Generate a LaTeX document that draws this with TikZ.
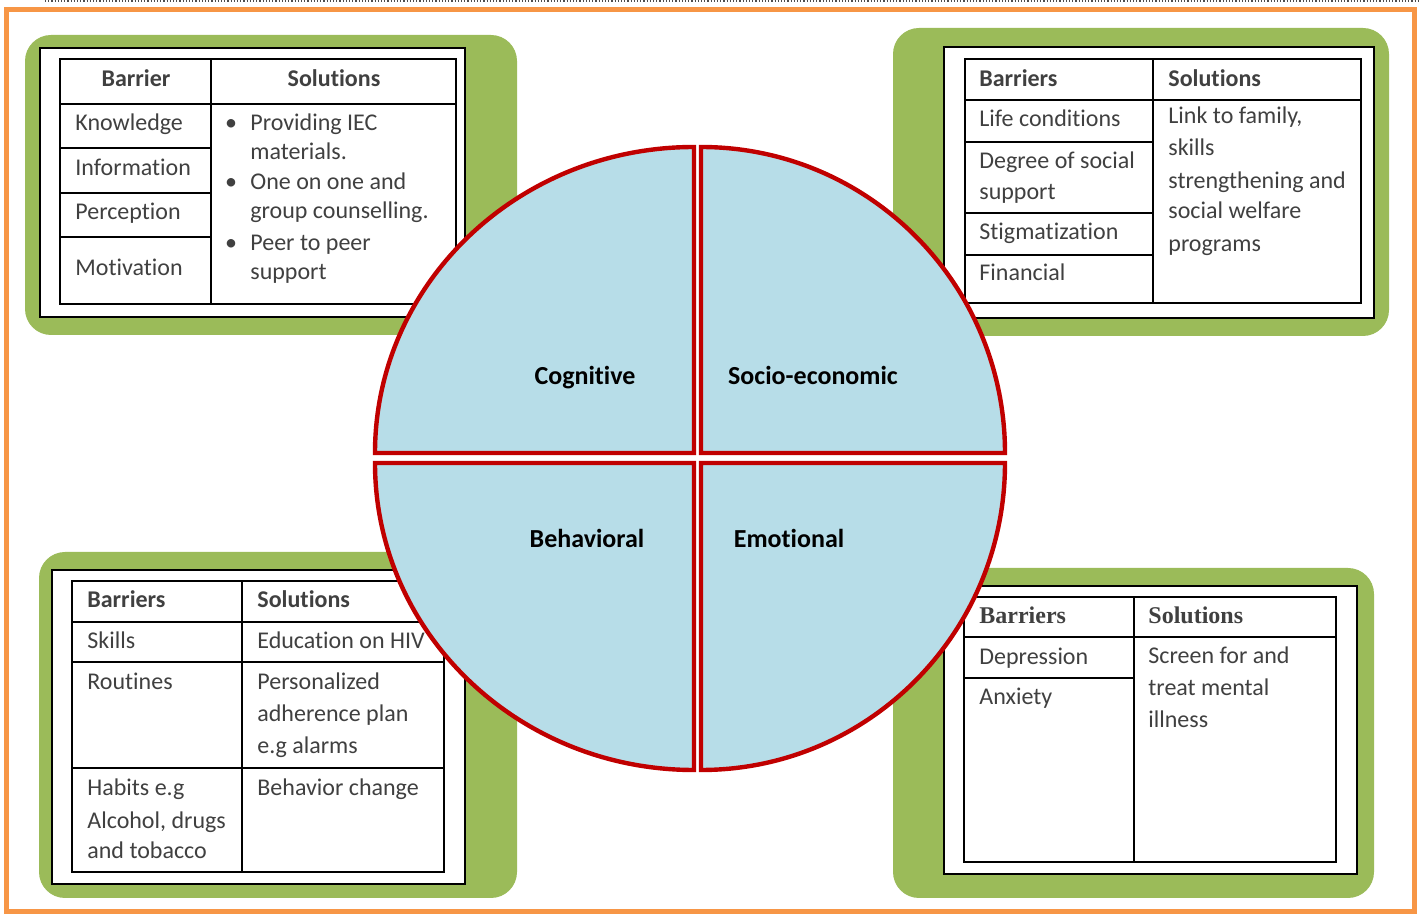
\documentclass[tikz,border=0pt]{standalone}
\usepackage{fontspec}
\setmainfont{Carlito}[Ligatures=NoCommon]
\newfontfamily\timesfam{Liberation Serif}

\definecolor{frameorange}{HTML}{F79646}
\definecolor{panelgreen}{HTML}{9BBB59}
\definecolor{quadblue}{HTML}{B7DDE8}
\definecolor{quadred}{HTML}{C00000}
\definecolor{txtgray}{HTML}{404040}

\begin{document}
\begin{tikzpicture}[x=0.5pt,y=-0.5pt,
	txt/.style={anchor=base west,inner sep=0pt,yshift=-1pt,text=txtgray,font=\fontsize{12}{14}\selectfont},
	head/.style={txt,font=\fontsize{12}{14}\selectfont\bfseries},
	serifhead/.style={txt,font=\fontsize{12}{14}\selectfont\timesfam\bfseries},
	quad/.style={draw=quadred,fill=quadblue,line width=2.2pt},
	quadlbl/.style={anchor=base,inner sep=0pt,yshift=-1pt,font=\fontsize{13}{15}\selectfont\bfseries},
	panel/.style={fill=panelgreen,rounded corners=13pt},
	sheet/.style={fill=white,draw=black,line width=0.7pt},
	tablines/.style={draw=black,line width=0.8pt}]
			\useasboundingbox (0,0) rectangle (1421,914);
			\draw[black!70,densely dotted,line width=0.6pt] (45,1) -- (1421,1);
			\draw[frameorange,line width=2.5pt] (6,10) rectangle (1414,911);

			% green panels and white sheets
			\fill[panel] (25,35) rectangle (517,335);
			\fill[panel] (893,28) rectangle (1389,336);
			\fill[panel] (39,552) rectangle (517,898);
			\fill[panel] (893,568) rectangle (1374,898);
			\draw[sheet] (40,48) rectangle (465,317);
			\draw[sheet] (944,47) rectangle (1374,318);
			\draw[sheet] (52,570) rectangle (465,884);
			\draw[sheet] (944,586) rectangle (1357,874);

			% cognitive table
			\draw[tablines] (60,59) rectangle (456,304);
			\draw[tablines] (211,59) -- (211,304);
			\draw[tablines] (60,104) -- (456,104);
			\draw[tablines] (60,148) -- (211,148);
			\draw[tablines] (60,193) -- (211,193);
			\draw[tablines] (60,237) -- (211,237);
			\node[head,anchor=base] (cogBarHead) at (136,85) {Barrier};
			\node[head,anchor=base] (cogSolHead) at (334,85) {Solutions};
			\node[txt] (cogKnow) at (75,129) {Knowledge};
			\node[txt] (cogInfo) at (75,174) {Information};
			\node[txt] (cogPerc) at (75,218) {Perception};
			\node[txt] (cogMoti) at (75,274) {Motivation};
			\node[txt,anchor=base] (cogDotA) at (231,129) {\textbullet};
			\node[txt,anchor=base] (cogDotB) at (231,188) {\textbullet};
			\node[txt,anchor=base] (cogDotC) at (231,249) {\textbullet};
			\node[txt] (cogSolA1) at (250,129) {Providing IEC};
			\node[txt] (cogSolA2) at (250,158) {materials.};
			\node[txt] (cogSolB1) at (250,188) {One on one and};
			\node[txt] (cogSolB2) at (250,217) {group counselling.};
			\node[txt] (cogSolC1) at (250,249) {Peer to peer};
			\node[txt] (cogSolC2) at (250,278) {support};

			% socio-economic table
			\draw[tablines] (965,59) rectangle (1361,303);
			\draw[tablines] (1153,59) -- (1153,303);
			\draw[tablines] (965,100) -- (1361,100);
			\draw[tablines] (965,142) -- (1153,142);
			\draw[tablines] (965,213) -- (1153,213);
			\draw[tablines] (965,255) -- (1153,255);
			\node[head] (socBarHead) at (979,85) {Barriers};
			\node[head] (socSolHead) at (1168,85) {Solutions};
			\node[txt] (socLife) at (979,125) {Life conditions};
			\node[txt] (socDeg1) at (979,167) {Degree of social};
			\node[txt] (socDeg2) at (979,198) {support};
			\node[txt] (socStig) at (979,238) {Stigmatization};
			\node[txt] (socFin) at (979,279) {Financial};
			\node[txt] (socSol1) at (1168,122) {Link to family,};
			\node[txt] (socSol2) at (1168,154) {skills};
			\node[txt] (socSol3) at (1168,187) {strengthening and};
			\node[txt] (socSol4) at (1168,217) {social welfare};
			\node[txt] (socSol5) at (1168,250) {programs};

			% behavioral table
			\draw[tablines] (72,581) rectangle (444,872);
			\draw[tablines] (242,581) -- (242,872);
			\draw[tablines] (72,622) -- (444,622);
			\draw[tablines] (72,662) -- (444,662);
			\draw[tablines] (72,768) -- (444,768);
			\node[head] (behBarHead) at (87,606) {Barriers};
			\node[head] (behSolHead) at (257,606) {Solutions};
			\node[txt] (behSkill) at (87,647) {Skills};
			\node[txt] (behEdu) at (257,647) {Education on HIV};
			\node[txt] (behRout) at (87,688) {Routines};
			\node[txt] (behPlan1) at (257,688) {Personalized};
			\node[txt] (behPlan2) at (257,720) {adherence plan};
			\node[txt] (behPlan3) at (257,752) {e.g alarms};
			\node[txt] (behHab1) at (87,794) {Habits e.g};
			\node[txt] (behHab2) at (87,826) {Alcohol, drugs};
			\node[txt] (behHab3) at (87,857) {and tobacco};
			\node[txt] (behChange) at (257,794) {Behavior change};

			% emotional table
			\draw[tablines] (964,597) rectangle (1336,862);
			\draw[tablines] (1134,597) -- (1134,862);
			\draw[tablines] (964,637) -- (1336,637);
			\draw[tablines] (964,678) -- (1134,678);
			\node[serifhead] (emoBarHead) at (979,622) {Barriers};
			\node[serifhead] (emoSolHead) at (1148,622) {Solutions};
			\node[txt] (emoDep) at (979,663) {Depression};
			\node[txt] (emoAnx) at (979,703) {Anxiety};
			\node[txt] (emoSol1) at (1148,662) {Screen for and};
			\node[txt] (emoSol2) at (1148,694) {treat mental};
			\node[txt] (emoSol3) at (1148,726) {illness};

			% the four quadrants
			\draw[quad] (694,453) -- (375,453) arc[start angle=180,end angle=270,x radius=319,y radius=306] -- cycle;
			\draw[quad] (701,453) -- (701,147) arc[start angle=270,end angle=360,x radius=304,y radius=306] -- cycle;
			\draw[quad] (694,463) -- (375,463) arc[start angle=180,end angle=90,x radius=319,y radius=307] -- cycle;
			\draw[quad] (701,463) -- (1005,463) arc[start angle=0,end angle=90,x radius=304,y radius=307] -- cycle;
			\node[quadlbl] (cognitive) at (585,383) {Cognitive};
			\node[quadlbl] (socio) at (813,383) {Socio-economic};
			\node[quadlbl] (behavioral) at (587,546) {Behavioral};
			\node[quadlbl] (emotional) at (789,546) {Emotional};
\end{tikzpicture}
\end{document}
